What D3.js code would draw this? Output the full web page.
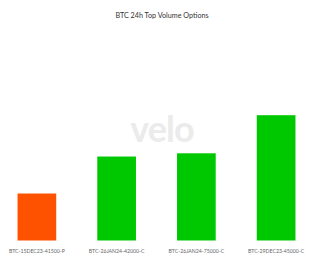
<!DOCTYPE html>
<html>
<head>
<meta charset="utf-8">
<script src="https://cdn.jsdelivr.net/npm/d3@7"></script>
<style>
  body { margin: 0; background: #fff; }
  text { font-family: Lato, "Open Sans", sans-serif; }
</style>
</head>
<body>
<svg class="svg"></svg>
<script>
const instruments = ['BTC-15DEC23-41500-P', 'BTC-26JAN24-42000-C', 'BTC-26JAN24-75000-C', 'BTC-29DEC23-45000-C'];
const volumes = [375, 670, 696, 1000];
const optionTypes = ['put', 'call', 'call', 'call'];

const width = 324;
const height = 262;

const rows = instruments.map((d, i) => ({ name: d, value: volumes[i], type: optionTypes[i] }));

const svg = d3.select('.svg')
  .attr('width', width)
  .attr('height', height);

const x = d3.scaleBand()
  .domain(instruments)
  .range([-3, 316])
  .paddingInner(0.515)
  .paddingOuter(0.2575);

const y = d3.scaleLinear()
  .domain([0, 1600])
  .range([240.5, 40]);

const color = d3.scaleOrdinal()
  .domain(['put', 'call'])
  .range(['#ff5200', '#00c800']);

// watermark
svg.append('text')
  .attr('x', 162)
  .attr('y', 142)
  .attr('text-anchor', 'middle')
  .attr('fill', '#ebebeb')
  .attr('font-size', 36)
  .attr('font-weight', 700)
  .attr('letter-spacing', -1)
  .text('velo');

svg.append('text')
  .attr('x', 162)
  .attr('y', 18)
  .attr('text-anchor', 'middle')
  .attr('fill', '#333')
  .attr('font-size', 7.2)
  .text('BTC 24h Top Volume Options');

svg.append('g')
  .selectAll('rect')
  .data(rows)
  .join('rect')
  .attr('x', d => x(d.name))
  .attr('width', x.bandwidth())
  .attr('y', d => y(d.value))
  .attr('height', d => y(0) - y(d.value))
  .attr('fill', d => color(d.type));

const xAxis = svg.append('g')
  .attr('transform', `translate(0,${y(0)})`)
  .call(d3.axisBottom(x).tickSize(0).tickPadding(9));

xAxis.select('.domain').remove();
xAxis.selectAll('text')
  .attr('fill', '#666')
  .attr('font-size', 5.2)
  .attr('font-family', 'Lato, "Open Sans", sans-serif');
</script>
</body>
</html>
